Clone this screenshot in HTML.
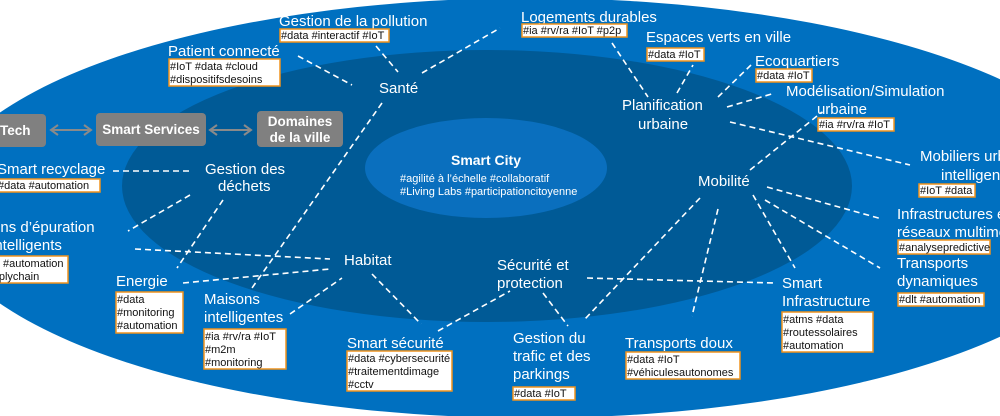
<!DOCTYPE html>
<html><head><meta charset="utf-8"><style>
html,body{margin:0;padding:0;background:#fff;}
svg{display:block;}
.w{fill:#fff;font-family:"Liberation Sans",sans-serif;font-size:15px;}
.t{fill:#111;font-family:"Liberation Sans",sans-serif;font-size:11px;}
.b{fill:#fff;stroke:#f0931e;stroke-width:1.5;}
.d{stroke:#fff;stroke-width:1.6;stroke-dasharray:6 4;fill:none;}
.g{fill:#808080;}
.gb{fill:#fff;font-family:"Liberation Sans",sans-serif;font-size:13.5px;font-weight:bold;}
</style></head><body>
<svg width="1000" height="416" viewBox="0 0 1000 416" xmlns="http://www.w3.org/2000/svg">
<ellipse cx="530" cy="208" rx="595" ry="210" fill="#0070c0"/>
<ellipse cx="487" cy="186" rx="365" ry="136" fill="#005a96"/>
<ellipse cx="486" cy="168" rx="121" ry="50" fill="#0a6fbe"/>

<g class="d">
<line x1="298" y1="56" x2="352" y2="85"/>
<line x1="376" y1="46" x2="398" y2="72"/>
<line x1="422" y1="73" x2="500" y2="28"/>
<line x1="382" y1="103" x2="252" y2="288"/>
<line x1="113" y1="171" x2="192" y2="171"/>
<line x1="190" y1="195" x2="128" y2="231"/>
<line x1="223" y1="200" x2="177" y2="268"/>
<line x1="135" y1="249" x2="330" y2="259"/>
<line x1="183" y1="283" x2="330" y2="269"/>
<line x1="290" y1="314" x2="342" y2="278"/>
<line x1="372" y1="274" x2="421" y2="324"/>
<line x1="438" y1="331" x2="510" y2="291"/>
<line x1="543" y1="293" x2="568" y2="326"/>
<line x1="587" y1="278" x2="775" y2="283"/>
<line x1="700" y1="198" x2="585" y2="319"/>
<line x1="718" y1="209" x2="692" y2="316"/>
<line x1="753" y1="195" x2="795" y2="268"/>
<line x1="765" y1="200" x2="880" y2="268"/>
<line x1="767" y1="187" x2="882" y2="219"/>
<line x1="750" y1="170" x2="822" y2="112"/>
<line x1="730" y1="122" x2="910" y2="165"/>
<line x1="727" y1="107" x2="775" y2="93"/>
<line x1="718" y1="97" x2="751" y2="65"/>
<line x1="677" y1="93" x2="693" y2="65"/>
<line x1="612" y1="43" x2="648" y2="97"/>
</g>

<rect class="g" x="-10" y="114" width="56" height="33" rx="4"/>
<text class="gb" x="0" y="135">Tech</text>
<rect class="g" x="96" y="113" width="110" height="33" rx="4"/>
<text class="gb" x="151" y="134" text-anchor="middle">Smart Services</text>
<rect class="g" x="257" y="111" width="86" height="36" rx="4"/>
<text class="gb" x="300" y="126" text-anchor="middle">Domaines</text>
<text class="gb" x="300" y="142" text-anchor="middle">de la ville</text>
<g stroke="#8a8a8a" stroke-width="2" fill="none">
<line x1="51" y1="130" x2="91" y2="130"/><polyline points="58,125 51,130 58,135"/><polyline points="84,125 91,130 84,135"/>
<line x1="210" y1="130" x2="251" y2="130"/><polyline points="217,125 210,130 217,135"/><polyline points="244,125 251,130 244,135"/>
</g>

<text x="486" y="165" text-anchor="middle" style="fill:#fff;font-family:'Liberation Sans',sans-serif;font-size:14px;font-weight:bold">Smart City</text>
<text class="w" x="400" y="182" style="font-size:11px">#agilité à l’échelle #collaboratif</text>
<text class="w" x="400" y="195" style="font-size:11px">#Living Labs #participationcitoyenne</text>

<g class="w">
<text x="279" y="26">Gestion de la pollution</text>
<text x="168" y="56">Patient connecté</text>
<text x="379" y="93">Santé</text>
<text x="521" y="22">Logements durables</text>
<text x="646" y="42">Espaces verts en ville</text>
<text x="755" y="66">Ecoquartiers</text>
<text x="786" y="96">Modélisation/Simulation</text>
<text x="842" y="114" text-anchor="middle">urbaine</text>
<text x="622" y="110">Planification</text>
<text x="638" y="129">urbaine</text>
<text x="920" y="161">Mobiliers urbains</text>
<text x="941" y="180">intelligents</text>
<text x="-3" y="174">Smart recyclage</text>
<text x="205" y="174">Gestion des</text>
<text x="218" y="191">déchets</text>
<text x="698" y="186">Mobilité</text>
<text x="897" y="219">Infrastructures et</text>
<text x="897" y="237">réseaux multimodaux</text>
<text x="-38" y="232">Stations d’épuration</text>
<text x="-9" y="250">intelligents</text>
<text x="344" y="265">Habitat</text>
<text x="497" y="270">Sécurité et</text>
<text x="497" y="288">protection</text>
<text x="897" y="268">Transports</text>
<text x="897" y="286">dynamiques</text>
<text x="782" y="288">Smart</text>
<text x="782" y="306">Infrastructure</text>
<text x="116" y="286">Energie</text>
<text x="204" y="304">Maisons</text>
<text x="204" y="322">intelligentes</text>
<text x="347" y="348">Smart sécurité</text>
<text x="513" y="343">Gestion du</text>
<text x="513" y="361">trafic et des</text>
<text x="513" y="379">parkings</text>
<text x="625" y="348">Transports doux</text>
</g>

<rect class="b" x="280" y="29" width="109" height="13"/><text class="t" x="281" y="39">#data #interactif #IoT</text>
<rect class="b" x="169" y="59" width="111" height="27"/><text class="t" x="170" y="70">#IoT #data #cloud</text><text class="t" x="170" y="83">#dispositifsdesoins</text>
<rect class="b" x="522" y="24" width="105" height="13"/><text class="t" x="523" y="34">#ia #rv/ra #IoT #p2p</text>
<rect class="b" x="647" y="48" width="57" height="13"/><text class="t" x="648" y="58">#data #IoT</text>
<rect class="b" x="756" y="69" width="56" height="13"/><text class="t" x="757" y="79">#data #IoT</text>
<rect class="b" x="818" y="118" width="76" height="13"/><text class="t" x="819" y="128">#ia #rv/ra #IoT</text>
<rect class="b" x="919" y="184" width="56" height="13"/><text class="t" x="920" y="194">#IoT #data</text>
<rect class="b" x="-5" y="179" width="105" height="13"/><text class="t" x="-2" y="189">#data #automation</text>
<rect class="b" x="898" y="240" width="92" height="14"/><text class="t" x="899" y="251">#analysepredictive</text>
<rect class="b" x="-5" y="256" width="73" height="27"/><text class="t" x="3" y="267">#automation</text><text class="t" x="-25" y="280">#supplychain</text>
<rect class="b" x="898" y="293" width="86" height="13"/><text class="t" x="899" y="303">#dlt #automation</text>
<rect class="b" x="782" y="312" width="91" height="40"/><text class="t" x="783" y="323">#atms #data</text><text class="t" x="783" y="336">#routessolaires</text><text class="t" x="783" y="349">#automation</text>
<rect class="b" x="116" y="292" width="67" height="41"/><text class="t" x="117" y="303">#data</text><text class="t" x="117" y="316">#monitoring</text><text class="t" x="117" y="329">#automation</text>
<rect class="b" x="204" y="329" width="82" height="40"/><text class="t" x="205" y="340">#ia #rv/ra #IoT</text><text class="t" x="205" y="353">#m2m</text><text class="t" x="205" y="366">#monitoring</text>
<rect class="b" x="347" y="351" width="105" height="40"/><text class="t" x="348" y="362">#data #cybersecurité</text><text class="t" x="348" y="375">#traitementdimage</text><text class="t" x="348" y="388">#cctv</text>
<rect class="b" x="513" y="387" width="62" height="13"/><text class="t" x="514" y="397">#data #IoT</text>
<rect class="b" x="626" y="352" width="114" height="27"/><text class="t" x="627" y="363">#data #IoT</text><text class="t" x="627" y="376">#véhiculesautonomes</text>
</svg>
</body></html>
